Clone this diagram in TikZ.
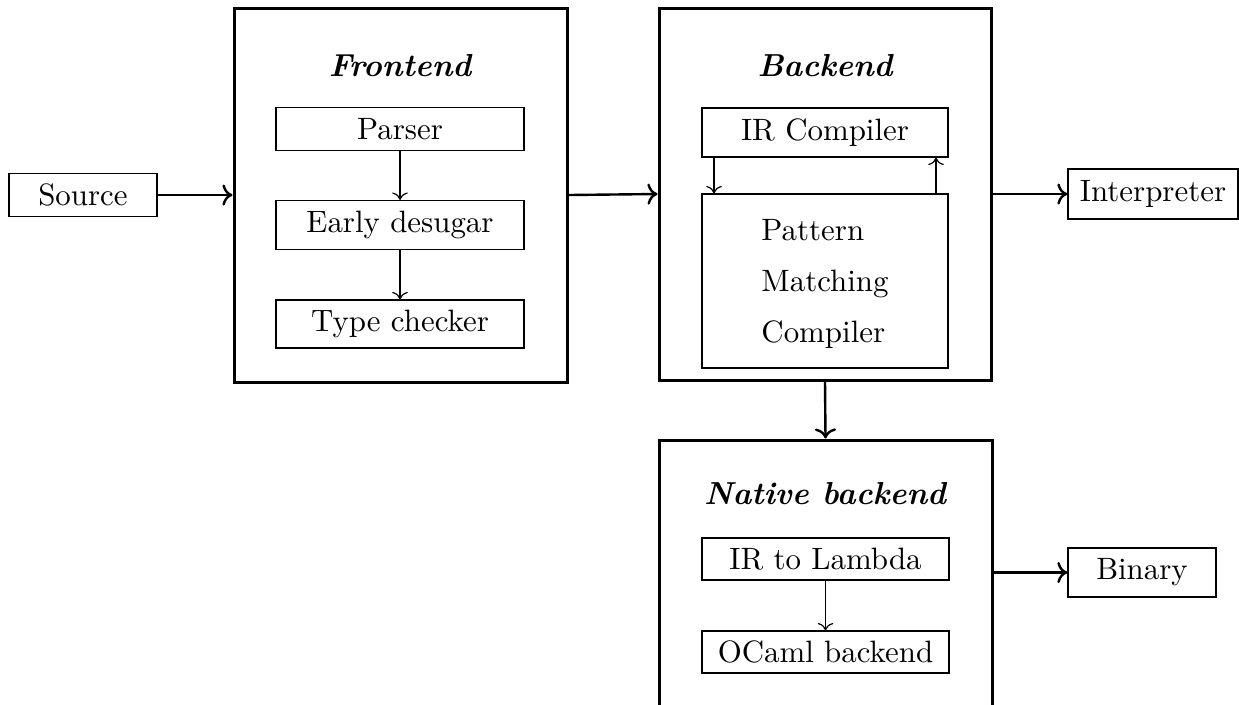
\documentclass[tikz,border=0pt]{standalone}
\usetikzlibrary{arrows.meta}
\begin{document}
\begin{tikzpicture}[x=0.33333pt,y=-0.33333pt,
  every node/.style={font=\fontsize{10.3}{12.4}\selectfont},
  bigbox/.style n args={2}{draw, line width=1pt, minimum width=#1*0.33333pt, minimum height=#2*0.33333pt, inner sep=0pt},
  smallbox/.style n args={2}{draw, line width=0.4pt, minimum width=#1*0.33333pt, minimum height=#2*0.33333pt, inner sep=0pt},
  title/.style={font=\fontsize{10.6}{12.7}\selectfont\bfseries\itshape},
  thinarrow/.style={->, line width=0.4pt},
  thickarrow/.style={->, line width=0.8pt}]
\useasboundingbox (0,0) rectangle (1239,704);
\clip (0,0) rectangle (1239,704);

% outside boxes
\node[smallbox={148}{43}] (src) at (83,195) {Source};
\node[smallbox={170}{50}] (interp) at (1153,194) {Interpreter};
\node[smallbox={148}{49}] (bin) at (1142,572.5) {Binary};

% frontend
\node[bigbox={333}{374}] (fe) at (400.5,195) {};
\node[title] (fet) at (400,66) {Frontend};
\node[smallbox={248}{43}] (parser) at (400,129) {Parser};
\node[smallbox={248}{49}] (early) at (400,225) {Early desugar};
\node[smallbox={248}{48}] (type) at (400,324) {Type checker};
\draw[thinarrow] (parser) -- (early);
\draw[thinarrow] (early) -- (type);

% backend
\node[bigbox={332}{372}] (be) at (825,194) {};
\node[title] (bet) at (825,66) {Backend};
\node[smallbox={246}{49}] (irc) at (825,132.5) {IR Compiler};
\node[smallbox={246}{174}, label={[align=left, yshift=-1pt, font=\fontsize{10.3}{12.4}\selectfont]center:Pattern\\[4.6pt]Matching\\[4.6pt]Compiler}] (pm) at (825,281) {};
\coordinate (dnx) at (714,0);
\coordinate (upx) at (936,0);
\draw[thinarrow] (dnx |- irc.south) -- (dnx |- pm.north);
\draw[thinarrow] (upx |- pm.north) -- (upx |- irc.south);

% native backend
\node[bigbox={333}{310}] (ne) at (825.5,595) {};
\node[title] (net) at (825,494) {Native backend};
\node[smallbox={247}{42}] (irl) at (825.5,559) {IR to Lambda};
\node[smallbox={247}{42}] (ocaml) at (825.5,652) {OCaml backend};
\draw[thinarrow] (irl) -- (ocaml);

% main connectors
\draw[thickarrow] (src) -- (fe.west |- src.east);
\draw[thickarrow] (fe.east) -- (be.west);
\draw[thickarrow] (be.east |- interp.west) -- (interp.west);
\draw[thickarrow] (be.south) -- (ne.north);
\draw[thickarrow] (ne.east |- bin.west) -- (bin.west);
\end{tikzpicture}
\end{document}
